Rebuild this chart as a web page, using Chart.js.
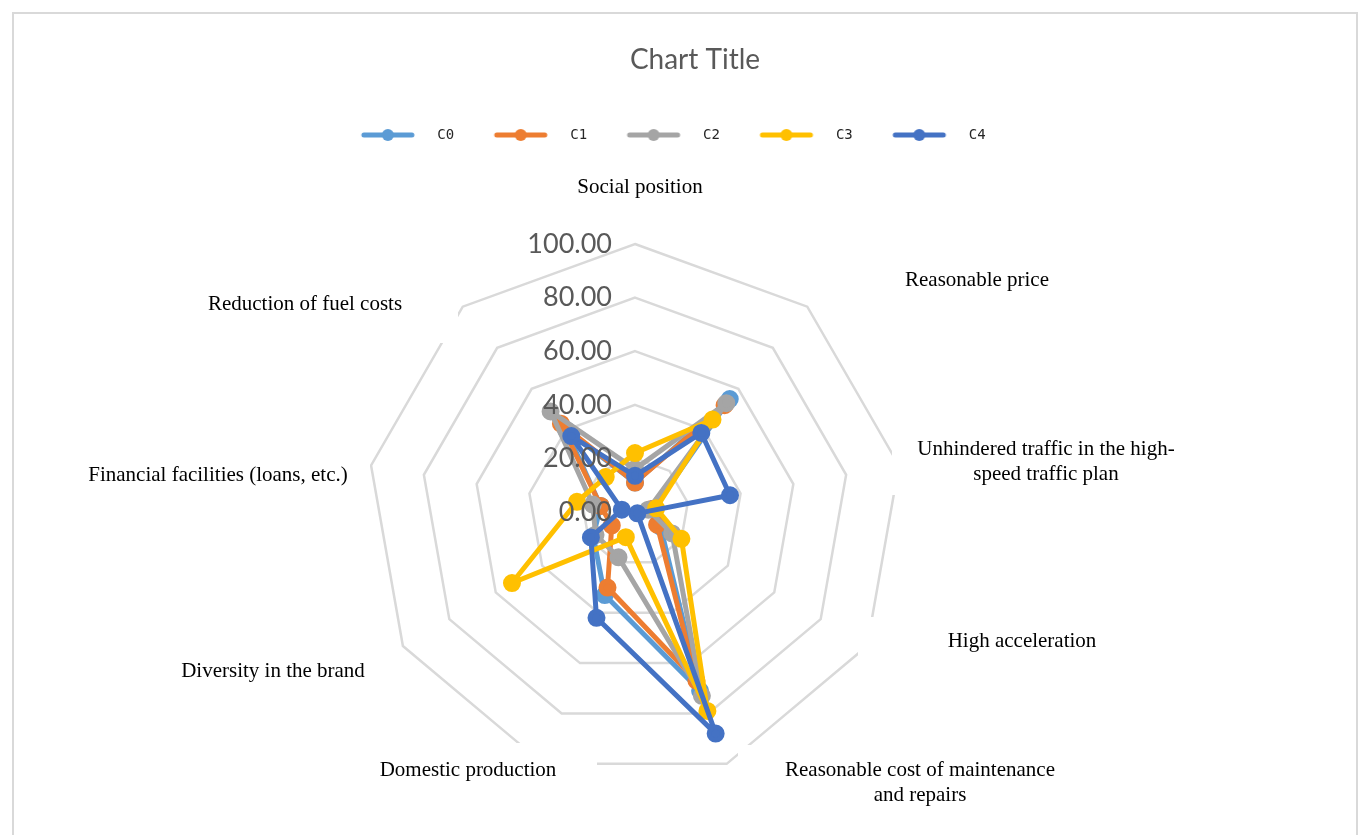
<!DOCTYPE html>
<html>
<head>
<meta charset="utf-8">
<title>Chart Title</title>
<script src="https://cdn.jsdelivr.net/npm/chart.js@4.4.1/dist/chart.umd.min.js"></script>
<style>
  html, body { margin: 0; padding: 0; background: #fff; }
  #wrap { position: relative; width: 1369px; height: 835px; overflow: hidden; }
  #frame { position: absolute; left: 12px; top: 12px; width: 1346px; height: 860px;
           border: 2px solid #d9d9d9; box-sizing: border-box; }
  #chart { position: absolute; left: 0; top: 0; }
</style>
</head>
<body>
<div id="wrap">
  <div id="frame"></div>
  <canvas id="chart" width="1369" height="835"></canvas>
</div>
<script>
const chartTitle = 'Chart Title';

// Survey categories (one spoke each)
const categories = [
    'Social position',
    'Reasonable price',
    ['Unhindered traffic in the high-', 'speed traffic plan'],
    'High acceleration',
    ['Reasonable cost of maintenance', 'and repairs'],
    'Domestic production',
    'Diversity in the brand',
    'Financial facilities (loans, etc.)',
    'Reduction of fuel costs'
];

// Cluster scores per category
const seriesNames = ['C0', 'C1', 'C2', 'C3', 'C4'];
const c0 = [11, 55, 7, 11, 71, 33, 18, 13, 40];
const c1 = [11, 52, 6, 9.5, 67, 30, 10, 13, 43];
const c2 = [16, 53, 5, 16, 73, 18, 17, 16, 49];
const c3 = [22, 45, 8, 20, 79, 10, 53, 22, 17];
const c4 = [13.5, 38.5, 36, 1, 88, 42, 19, 5, 37];
const seriesValues = [c0, c1, c2, c3, c4];

// Radial axis
const axisMin = 0;
const axisMax = 100;
const axisStep = 20;

const seriesColors = ['#5b9bd5', '#ed7d31', '#a5a5a5', '#ffc000', '#4472c4'];

// Caption placement around the web: text centre and the white box behind it
const captionAt = [
    [640, 187], [977, 280], [1046, 449], [1022, 641], [920, 770],
    [468, 770], [273, 671], [218, 475], [305, 304]
];
const captionBox = [
    [565, 172, 150, 30], [895, 265, 170, 32], [892, 430, 300, 65], [858, 617, 330, 50],
    [738, 745, 335, 65], [365, 743, 232, 60], [170, 655, 210, 34], [80, 458, 290, 36],
    [190, 268, 268, 75]
];

// little line-with-dot swatch for the legend
function legendIcon(color) {
    const c = document.createElement('canvas');
    c.width = 56;
    c.height = 16;
    const g = c.getContext('2d');
    g.strokeStyle = color;
    g.lineWidth = 5;
    g.lineCap = 'round';
    g.beginPath();
    g.moveTo(4, 8);
    g.lineTo(52, 8);
    g.stroke();
    g.fillStyle = color;
    g.beginPath();
    g.arc(28, 8, 6, 0, Math.PI * 2);
    g.fill();
    return c;
}
const legendIcons = seriesColors.map(legendIcon);

const captionPlugin = {
    id: 'captions',
    beforeDatasetsDraw(chart) {
        const ctx = chart.ctx;
        ctx.save();
        // heading, set a little right of the legend's centre
        ctx.font = '28px Lato, sans-serif';
        ctx.fillStyle = '#595959';
        ctx.textAlign = 'center';
        ctx.textBaseline = 'middle';
        ctx.fillText(chartTitle, 695, 60);

        ctx.font = '21px "Liberation Serif", "Times New Roman", serif';
        categories.forEach((label, i) => {
            const b = captionBox[i];
            ctx.fillStyle = '#fff';
            ctx.fillRect(b[0], b[1], b[2], b[3]);
            ctx.fillStyle = '#000';
            const lines = Array.isArray(label) ? label : [label];
            lines.forEach((line, k) => {
                ctx.fillText(line, captionAt[i][0], captionAt[i][1] + k * 25);
            });
        });
        ctx.restore();
    },
    afterDatasetsDraw(chart) {
        // value labels sit left of the vertical spoke, on top of the lines
        const ctx = chart.ctx;
        const scale = chart.scales.r;
        ctx.save();
        ctx.font = '27px Lato, sans-serif';
        ctx.fillStyle = '#595959';
        ctx.textAlign = 'right';
        ctx.textBaseline = 'middle';
        scale.ticks.forEach(t => {
            const d = scale.getDistanceFromCenterForValue(t.value);
            ctx.fillText(t.value.toFixed(2), scale.xCenter - 23, scale.yCenter - d);
        });
        ctx.restore();
    }
};

new Chart(document.getElementById('chart'), {
    type: 'radar',
    data: {
        labels: categories,
        datasets: seriesNames.map((name, i) => ({
            label: name,
            data: seriesValues[i],
            borderColor: seriesColors[i],
            backgroundColor: seriesColors[i],
            pointBackgroundColor: seriesColors[i],
            pointBorderColor: seriesColors[i],
            borderWidth: 5,
            borderJoinStyle: 'round',
            pointRadius: 6.5,
            fill: false,
            order: seriesNames.length - i
        }))
    },
    options: {
        responsive: false,
        animation: false,
        events: [],
        layout: { padding: { top: 104, right: 38 } },
        plugins: {
            title: { display: false },
            legend: {
                position: 'top',
                labels: {
                    usePointStyle: true,
                    pointStyleWidth: 85,
                    padding: 24,
                    color: '#262626',
                    font: { family: 'DejaVu Sans Mono', size: 14 },
                    generateLabels(chart) {
                        const items = Chart.defaults.plugins.legend.labels.generateLabels(chart);
                        items.sort((a, b) => a.datasetIndex - b.datasetIndex);
                        items.forEach(it => { it.pointStyle = legendIcons[it.datasetIndex]; });
                        return items;
                    }
                }
            },
            tooltip: { enabled: false }
        },
        scales: {
            r: {
                min: axisMin,
                max: axisMax,
                ticks: { stepSize: axisStep, display: false },
                grid: { color: '#d9d9d9', lineWidth: 2.5 },
                angleLines: { display: false },
                pointLabels: { display: false },
                afterFit(scale) {
                    scale.xCenter = 635;
                    scale.yCenter = 512;
                    scale.drawingArea = 268;
                }
            }
        }
    },
    plugins: [captionPlugin]
});
</script>
</body>
</html>
